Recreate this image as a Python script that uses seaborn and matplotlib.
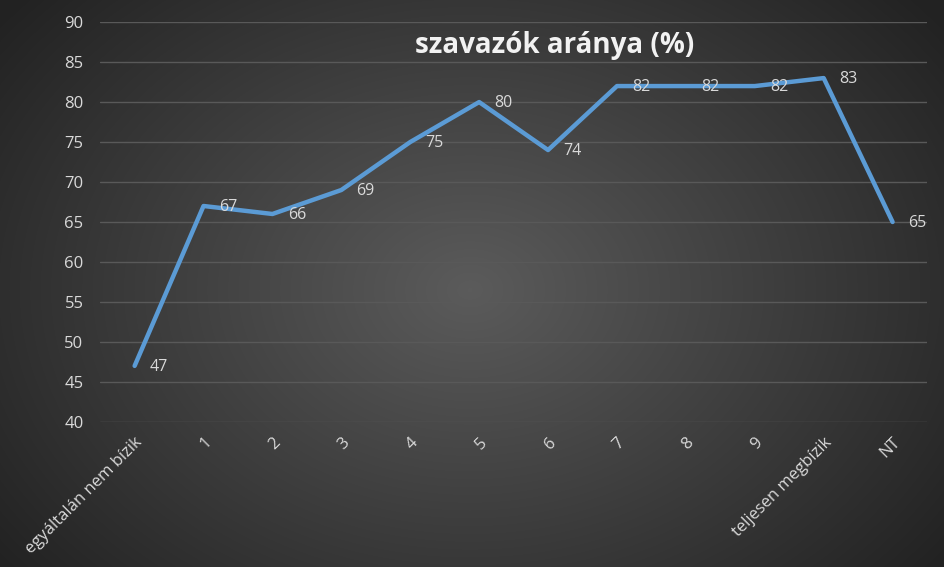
import numpy as np
import pandas as pd
import seaborn as sns
import matplotlib.pyplot as plt

# adatok
kategoriak = ["egyáltalán nem bízik", "1", "2", "3", "4", "5", "6", "7", "8", "9",
              "teljesen megbízik", "NT"]
aranyok = [47, 67, 66, 69, 75, 80, 74, 82, 82, 82, 83, 65]

tabela = pd.DataFrame({"kat": range(len(kategoriak)), "arany": aranyok})

sns.set_style("dark")
plt.rcParams['font.family'] = ['Open Sans', 'DejaVu Sans']

fig = plt.figure(figsize=(9.45, 5.67), dpi=100)

# hatter: radialis szurke atmenet
bg = fig.add_axes([0, 0, 1, 1], zorder=0)
yy, xx = np.mgrid[0:567, 0:945]
r = np.sqrt(((xx - 470) / 560.0) ** 2 + ((yy - 290) / 420.0) ** 2)
shade = np.clip(0.36 - 0.21 * r, 0.14, 0.36)
bg.imshow(shade, cmap='gray', vmin=0, vmax=1, aspect='auto', extent=[0, 1, 0, 1])
bg.axis('off')

ax = fig.add_axes([0.106, 0.256, 0.875, 0.705], zorder=1)
ax.patch.set_alpha(0)

sns.lineplot(data=tabela, x="kat", y="arany", ax=ax, color="#5b9bd5", linewidth=3.2)

for i, v in enumerate(aranyok):
    ax.annotate(str(v), (i, v), xytext=(11, -1), textcoords='offset points',
                ha='left', va='center', color='#d9d9d9', fontsize=11.5)

ax.set_xlim(-0.5, len(kategoriak) - 0.5)
ax.set_ylim(40, 90)
ax.set_yticks(range(40, 91, 5))
ax.set_xticks(range(len(kategoriak)))
ax.set_xticklabels(kategoriak, rotation=45, ha='right', rotation_mode='anchor')
ax.tick_params(axis='both', colors='#d9d9d9', labelsize=12, length=0)
ax.tick_params(axis='x', pad=9)
ax.tick_params(axis='y', pad=12)
ax.grid(axis='y', color='#595959', linewidth=1)
ax.grid(axis='x', visible=False)
for s in ax.spines.values():
    s.set_visible(False)
ax.set_xlabel("")
ax.set_ylabel("")

fig.text(0.587, 0.92, "szavazók aránya (%)", ha='center', va='center',
         color='#f2f2f2', fontsize=20, fontweight='bold')

plt.savefig("out.png", dpi=100)
